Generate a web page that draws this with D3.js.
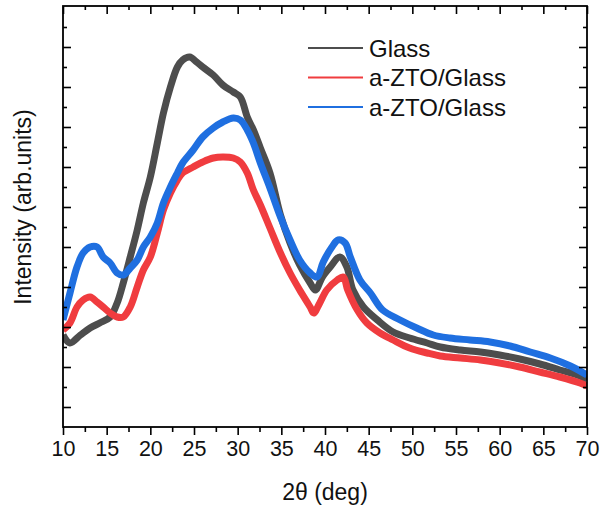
<!DOCTYPE html>
<html>
<head>
<meta charset="utf-8">
<script src="https://cdn.jsdelivr.net/npm/d3@7/dist/d3.min.js"></script>
<style>
  html, body { margin: 0; padding: 0; background: #fff; }
  svg { display: block; }
  text { font-family: "Liberation Sans", Arial, Helvetica, sans-serif; fill: #111; }
</style>
</head>
<body>
<svg id="chart" width="600" height="508"></svg>
<script>
// XRD patterns: 2θ (deg) vs intensity (arb. units)
const glassTheta = [10.0, 10.8, 12.0, 13.1, 14.2, 15.4, 16.2, 16.9, 17.7, 18.5, 19.2, 20.0, 20.8, 21.5, 22.3, 23.1, 23.7, 24.5, 25.3, 26.0, 27.2, 28.3, 29.5, 30.3, 31.1, 31.8, 32.6, 33.7, 34.9, 36.0, 37.1, 38.3, 38.9, 39.7, 40.6, 41.7, 42.5, 43.2, 44.4, 46.0, 47.8, 49.7, 51.7, 53.2, 55.5, 57.8, 60.0, 62.3, 64.6, 66.9, 69.2, 70.0];
const glassInt   = [92, 84, 92, 99, 104, 110, 124, 144, 170, 197, 224, 250, 284, 314, 340, 360, 367, 370, 365, 360, 352, 342, 335, 330, 310, 297, 279, 254, 212, 184, 162, 144, 137, 150, 160, 170, 160, 137, 120, 107, 95, 89, 84, 80, 77, 75, 72, 68, 63, 57, 51, 47];

const redTheta = [10.0, 10.8, 11.6, 12.3, 13.1, 13.9, 14.6, 15.4, 16.2, 16.9, 17.7, 18.5, 19.2, 20.0, 20.8, 21.5, 22.3, 23.1, 23.7, 24.9, 26.0, 27.2, 28.3, 29.5, 30.3, 31.1, 31.8, 32.6, 33.7, 34.9, 36.0, 37.1, 38.3, 38.7, 39.4, 40.2, 41.4, 42.1, 42.6, 43.7, 44.8, 46.3, 47.8, 49.7, 51.7, 53.2, 55.5, 57.8, 60.0, 62.3, 64.6, 66.9, 69.2, 70.0];
const redInt   = [97, 104, 120, 127, 130, 125, 120, 114, 110, 110, 120, 140, 157, 170, 194, 217, 234, 247, 254, 260, 265, 269, 270, 269, 265, 254, 237, 222, 199, 174, 154, 137, 120, 114, 124, 137, 147, 150, 137, 117, 104, 94, 87, 79, 74, 71, 69, 67, 64, 60, 55, 50, 44, 41];

const blueTheta = [10.0, 10.8, 11.6, 12.3, 13.1, 13.9, 14.6, 15.4, 16.2, 16.9, 17.7, 18.5, 19.2, 20.0, 20.8, 21.5, 22.3, 23.1, 23.7, 24.9, 26.0, 27.2, 28.3, 29.5, 30.3, 31.1, 31.8, 32.6, 33.7, 34.9, 36.0, 37.1, 38.3, 39.1, 39.8, 40.8, 41.5, 42.3, 42.9, 44.0, 45.2, 46.6, 48.6, 50.5, 52.4, 54.3, 56.6, 58.9, 61.2, 63.5, 65.8, 68.1, 70.0];
const blueInt   = [107, 134, 160, 174, 180, 180, 170, 164, 154, 152, 159, 167, 180, 190, 204, 224, 240, 254, 264, 277, 290, 299, 305, 309, 307, 297, 284, 264, 239, 210, 187, 167, 154, 150, 165, 180, 187, 184, 170, 147, 134, 117, 107, 99, 92, 89, 87, 85, 81, 75, 69, 61, 52];

const seriesNames  = ["Glass", "a-ZTO/Glass", "a-ZTO/Glass"];
const seriesColors = ["#4d4d4d", "#f03c3f", "#1f6fe0"];

const xTicks = [10, 15, 20, 25, 30, 35, 40, 45, 50, 55, 60, 65, 70];
const xMinorTicks = [12.5, 17.5, 22.5, 27.5, 32.5, 37.5, 42.5, 47.5, 52.5, 57.5, 62.5, 67.5];
const yTicks = [20, 60, 100, 140, 180, 220, 260, 300, 340, 380];
const yMinorTicks = [40, 80, 120, 160, 200, 240, 280, 320, 360, 400];

const series = [
  { name: seriesNames[0], color: seriesColors[0], theta: glassTheta, intensity: glassInt },
  { name: seriesNames[1], color: seriesColors[1], theta: redTheta,   intensity: redInt },
  { name: seriesNames[2], color: seriesColors[2], theta: blueTheta,  intensity: blueInt }
];

const margin = { left: 63, right: 13, top: 6, bottom: 81 };
const W = 600, H = 508;
const iw = W - margin.left - margin.right;
const ih = H - margin.top - margin.bottom;

const svg = d3.select("#chart");
const g = svg.append("g").attr("transform", `translate(${margin.left},${margin.top})`);

const x = d3.scaleLinear().domain([10, 70]).range([0, iw]);
const y = d3.scaleLinear().domain([0, 421]).range([ih, 0]);

// curves
const line = d3.line()
  .x(d => x(d[0]))
  .y(d => y(d[1]))
  .curve(d3.curveCatmullRom.alpha(0.5));

g.append("clipPath").attr("id", "plotClip")
  .append("rect").attr("width", iw).attr("height", ih);

const curves = g.append("g").attr("clip-path", "url(#plotClip)");
series.forEach(s => {
  curves.append("path")
    .datum(d3.zip(s.theta, s.intensity))
    .attr("d", line)
    .attr("fill", "none")
    .attr("stroke", s.color)
    .attr("stroke-width", 7)
    .attr("stroke-linejoin", "round")
    .attr("stroke-linecap", "butt");
});

// axes: bottom ticks point outward, the other three sides point inward
function styleAxis(sel) {
  sel.select(".domain").remove();
  sel.selectAll(".tick line").attr("stroke", "#000").attr("stroke-width", 1.6);
}

const bottom = g.append("g").attr("transform", `translate(0,${ih})`)
  .call(d3.axisBottom(x).tickValues(xTicks).tickSize(8).tickPadding(6).tickFormat(d3.format("d")));
styleAxis(bottom);
bottom.selectAll("text").attr("font-size", "21.5px").attr("fill", "#111");
g.append("g").attr("transform", `translate(0,${ih})`)
  .call(d3.axisBottom(x).tickValues(xMinorTicks).tickSize(5).tickFormat(""))
  .call(styleAxis);

g.append("g").call(d3.axisBottom(x).tickValues(xTicks).tickSize(8).tickFormat("")).call(styleAxis);
g.append("g").call(d3.axisBottom(x).tickValues(xMinorTicks).tickSize(4).tickFormat("")).call(styleAxis);

g.append("g").call(d3.axisRight(y).tickValues(yTicks).tickSize(8).tickFormat("")).call(styleAxis);
g.append("g").call(d3.axisRight(y).tickValues(yMinorTicks).tickSize(4).tickFormat("")).call(styleAxis);

g.append("g").attr("transform", `translate(${iw},0)`)
  .call(d3.axisLeft(y).tickValues(yTicks).tickSize(8).tickFormat("")).call(styleAxis);
g.append("g").attr("transform", `translate(${iw},0)`)
  .call(d3.axisLeft(y).tickValues(yMinorTicks).tickSize(4).tickFormat("")).call(styleAxis);

// frame
g.append("rect")
  .attr("width", iw).attr("height", ih)
  .attr("fill", "none").attr("stroke", "#000").attr("stroke-width", 1.8);

// axis titles
svg.append("text")
  .attr("x", margin.left + iw / 2).attr("y", 500)
  .attr("text-anchor", "middle").attr("font-size", "23px")
  .text("2θ (deg)");

svg.append("text")
  .attr("transform", "translate(31,207) rotate(-90)")
  .attr("text-anchor", "middle").attr("font-size", "23px")
  .text("Intensity (arb.units)");

// legend
const legend = g.append("g").attr("transform", "translate(245,42)");
series.forEach((s, i) => {
  const row = legend.append("g").attr("transform", `translate(0,${i * 29.5})`);
  row.append("line").attr("x1", 0).attr("x2", 55).attr("y1", 0).attr("y2", 0)
    .attr("stroke", s.color).attr("stroke-width", 2.2);
  row.append("text").attr("x", 61).attr("y", 8.5).attr("font-size", "24px").text(s.name);
});
</script>
</body>
</html>
